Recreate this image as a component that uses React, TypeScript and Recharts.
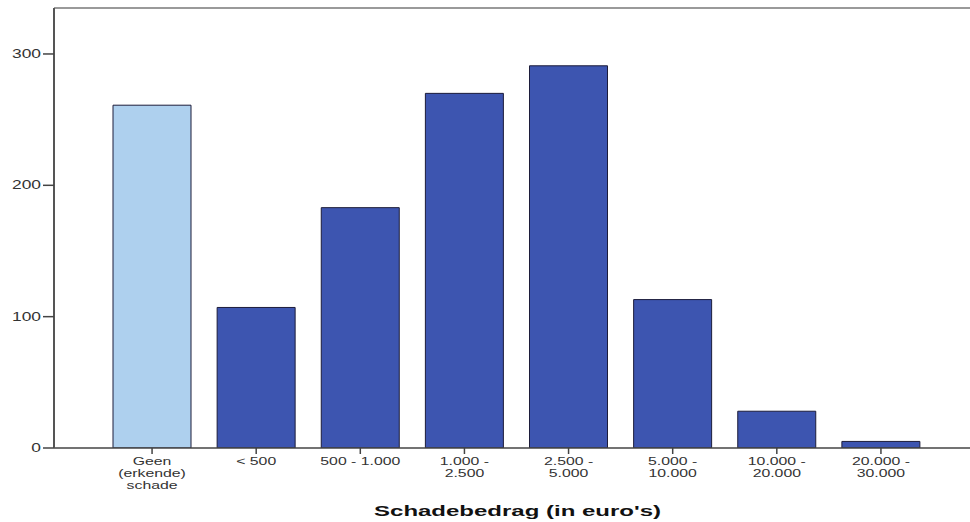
import { Bar, BarChart, Cell, ReferenceLine, XAxis, YAxis } from 'recharts';

const categories = [
  'Geen\n(erkende)\nschade',
  '< 500',
  '500 - 1.000',
  '1.000 -\n2.500',
  '2.500 -\n5.000',
  '5.000 -\n10.000',
  '10.000 -\n20.000',
  '20.000 -\n30.000',
];
const counts = [261, 107, 183, 270, 291, 113, 28, 5];
const yTicks = [0, 100, 200, 300];

const data = categories.map((name, i) => ({ name, value: counts[i] }));

const FONT = '"Liberation Sans", Arial, sans-serif';

// the source image is stretched sideways, so the text is too
function XTick({ x, y, payload }: any) {
  const lines = String(payload.value).split('\n');
  return (
    <g transform={`translate(${x},${y}) scale(1.55,1)`}>
      {lines.map((line, i) => (
        <text
          key={i}
          x={0}
          y={9 + i * 11.8}
          textAnchor="middle"
          fontFamily={FONT}
          fontSize={10.2}
          fill="#333"
        >
          {line}
        </text>
      ))}
    </g>
  );
}

function YTick({ x, y, payload }: any) {
  return (
    <g transform={`translate(${x},${y}) scale(1.45,1)`}>
      <text x={0} y={4} textAnchor="end" fontFamily={FONT} fontSize={12} fill="#333">
        {payload.value}
      </text>
    </g>
  );
}

function AxisTitle({ viewBox }: any) {
  const cx = viewBox.x + viewBox.width / 2 - 2;
  return (
    <g transform={`translate(${cx},516) scale(1.6,1)`}>
      <text x={0} y={0} textAnchor="middle" fontFamily={FONT} fontWeight="bold" fontSize={15} fill="#111">
        Schadebedrag (in euro's)
      </text>
    </g>
  );
}

export default function App() {
  return (
    <div
      style={{
        position: 'absolute',
        left: 0,
        top: 0,
        width: 970,
        height: 522,
        overflow: 'hidden',
        background: '#fff',
      }}
    >
      <BarChart
        width={985}
        height={522}
        data={data}
        margin={{ top: 8, right: 0, left: 0, bottom: 0 }}
      >
        <ReferenceLine y={335} stroke="#9a9a9a" strokeWidth={2} ifOverflow="visible" />
        <XAxis
          dataKey="name"
          interval={0}
          height={74}
          padding={{ left: 46, right: 52 }}
          tick={<XTick />}
          tickSize={6}
          tickLine={{ stroke: '#444', strokeWidth: 1.5 }}
          axisLine={{ stroke: '#444', strokeWidth: 1.5 }}
          label={<AxisTitle />}
        />
        <YAxis
          width={54}
          domain={[0, 335]}
          ticks={yTicks}
          allowDataOverflow
          tick={<YTick />}
          tickSize={11}
          tickMargin={2}
          tickLine={{ stroke: '#444', strokeWidth: 1.5 }}
          axisLine={{ stroke: '#555', strokeWidth: 2 }}
        />
        <Bar dataKey="value" barSize={78} stroke="#1c1c3a" strokeWidth={1} isAnimationActive={false}>
          {data.map((d, i) => (
            <Cell key={d.name} fill={i === 0 ? '#aed0ee' : '#3d55b0'} />
          ))}
        </Bar>
      </BarChart>
    </div>
  );
}
